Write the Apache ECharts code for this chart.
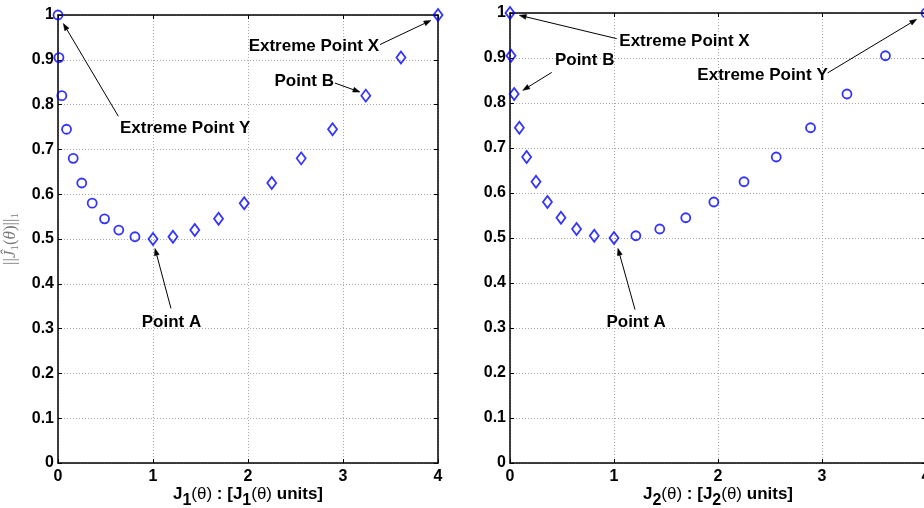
<!DOCTYPE html>
<html>
<head>
<meta charset="utf-8">
<script src="https://cdn.jsdelivr.net/npm/echarts@6/dist/echarts.min.js"></script>
<style>
html, body { margin: 0; padding: 0; background: #fff; }
#main { width: 924px; height: 508px; }
</style>
</head>
<body>
<div id="main"></div>
<script>
// data
var xTickLabels = ['0', '1', '2', '3', '4'];
var yTickLabels = ['0', '0.1', '0.2', '0.3', '0.4', '0.5', '0.6', '0.7', '0.8', '0.9', '1'];

// left panel: J1 on x
var leftCircleX = [0, 0.01, 0.04, 0.09, 0.16, 0.25, 0.36, 0.49, 0.64, 0.81];
var leftCircleY = [1, 0.905, 0.82, 0.745, 0.68, 0.625, 0.58, 0.545, 0.52, 0.505];
var leftDiamondX = [1, 1.21, 1.44, 1.69, 1.96, 2.25, 2.56, 2.89, 3.24, 3.61, 4];
var leftDiamondY = [0.5, 0.505, 0.52, 0.545, 0.58, 0.625, 0.68, 0.745, 0.82, 0.905, 1];

// right panel: J2 on x
var rightDiamondX = [0, 0.01, 0.04, 0.09, 0.16, 0.25, 0.36, 0.49, 0.64, 0.81, 1];
var rightDiamondY = [1, 0.905, 0.82, 0.745, 0.68, 0.625, 0.58, 0.545, 0.52, 0.505, 0.5];
var rightCircleX = [1.21, 1.44, 1.69, 1.96, 2.25, 2.56, 2.89, 3.24, 3.61, 4];
var rightCircleY = [0.505, 0.52, 0.545, 0.58, 0.625, 0.68, 0.745, 0.82, 0.905, 1];

// annotations (data coordinates of each panel)
var leftNotes = [
  { text: 'Extreme Point Y', pos: [0.653, 0.747], align: 'left', tail: [0.635, 0.774], head: [0.056, 0.981] },
  { text: 'Extreme Point X', pos: [3.379, 0.931], align: 'right', tail: [3.389, 0.934], head: [3.926, 0.988] },
  { text: 'Point B', pos: [2.905, 0.851], align: 'right', tail: [2.916, 0.848], head: [3.179, 0.828] },
  { text: 'Point A', pos: [1.195, 0.315], align: 'center', tail: [1.189, 0.345], head: [1.021, 0.479] }
];
var rightNotes = [
  { text: 'Extreme Point X', pos: [1.051, 0.937], align: 'left', tail: [1.026, 0.943], head: [0.089, 0.995] },
  { text: 'Point B', pos: [0.718, 0.894], align: 'center', tail: [0.401, 0.868], head: [0.122, 0.828] },
  { text: 'Extreme Point Y', pos: [3.055, 0.861], align: 'right', tail: [3.055, 0.867], head: [3.911, 0.986] },
  { text: 'Point A', pos: [1.213, 0.313], align: 'center', tail: [1.202, 0.341], head: [1.038, 0.477] }
];

var FONT = '"Liberation Sans", Arial, Helvetica, sans-serif';
var SERIF = '"Liberation Serif", "DejaVu Serif", serif';
var BLUE = '#0000ff';
var NAME_GRAY = '#7a7a7a';

function zip(xs, ys) {
  return xs.map(function (x, i) { return [x, ys[i]]; });
}

var tickLabelStyle = { fontFamily: FONT, fontWeight: 'bold', fontSize: 16, color: '#000' };
var frameLine = { show: true, onZero: false, lineStyle: { color: '#000', width: 1.5 } };
var innerTick = { show: true, inside: true, length: 4, lineStyle: { color: '#000', width: 1 } };
var gridLine = { show: true, lineStyle: { color: '#a8a8a8', width: 1, type: [1, 2] } };

var xNameRich = {
  m: { fontFamily: FONT, fontWeight: 'bold', fontSize: 17, lineHeight: 30, verticalAlign: 'middle', color: '#000' },
  t: { fontFamily: FONT, fontWeight: 'normal', fontSize: 17, lineHeight: 30, verticalAlign: 'middle', color: '#000' },
  s: { fontFamily: FONT, fontWeight: 'bold', fontSize: 16, lineHeight: 11, verticalAlign: 'bottom', color: '#000' }
};

function xAxes(g, idx) {
  return [{
    gridIndex: g, type: 'value', min: 0, max: 4, interval: 1, position: 'bottom',
    axisLine: frameLine, axisTick: innerTick, splitLine: gridLine,
    axisLabel: Object.assign({ margin: 6, formatter: function (v, i) { return xTickLabels[i]; } }, tickLabelStyle),
    name: '{m|J}{s|' + idx + '}{t|(θ)}{m| : [J}{s|' + idx + '}{t|(θ)}{m| units]}',
    nameLocation: 'middle', nameGap: 16, nameMoveOverlap: false,
    nameTextStyle: { rich: xNameRich }
  }, {
    gridIndex: g, type: 'value', min: 0, max: 4, interval: 1, position: 'top',
    axisLine: frameLine, axisTick: innerTick, splitLine: { show: false }, axisLabel: { show: false }
  }];
}

function yAxes(g, withName) {
  var left = {
    gridIndex: g, type: 'value', min: 0, max: 1, interval: 0.1, position: 'left',
    axisLine: frameLine, axisTick: innerTick, splitLine: gridLine,
    axisLabel: Object.assign({ margin: 4, formatter: function (v, i) { return yTickLabels[i]; } }, tickLabelStyle)
  };
  if (withName) {
    left.name = '{n|||}{i|Ĵ}{s|1}{n|(}{i|θ}{n|)||}{s|1}';
    left.nameLocation = 'middle';
    left.nameRotate = 90;
    left.nameGap = 37;
    left.nameMoveOverlap = false;
    left.nameTextStyle = {
      rich: {
        n: { fontFamily: SERIF, fontSize: 17, color: NAME_GRAY, lineHeight: 20, verticalAlign: 'middle' },
        i: { fontFamily: SERIF, fontStyle: 'italic', fontSize: 17, color: NAME_GRAY, lineHeight: 20, verticalAlign: 'middle' },
        s: { fontFamily: SERIF, fontSize: 11, color: NAME_GRAY, lineHeight: 8, verticalAlign: 'bottom' }
      }
    };
  }
  return [left, {
    gridIndex: g, type: 'value', min: 0, max: 1, interval: 0.1, position: 'right',
    axisLine: frameLine, axisTick: innerTick, splitLine: { show: false }, axisLabel: { show: false }
  }];
}

function markers(name, shape, g, pts) {
  return {
    name: name, type: 'scatter', xAxisIndex: g * 2, yAxisIndex: g * 2,
    symbol: shape, symbolSize: shape === 'diamond' ? [9, 12] : 9,
    itemStyle: { color: 'rgba(0,0,0,0)', borderColor: BLUE, borderWidth: 1.8 },
    data: pts, clip: false, z: 5
  };
}

var myChart = echarts.init(document.getElementById('main'));

var option = {
  animation: false,
  backgroundColor: '#fff',
  grid: [
    { left: 58, top: 15, width: 380, height: 448, outerBoundsMode: 'none', containLabel: false },
    { left: 510, top: 13, width: 416, height: 450, outerBoundsMode: 'none', containLabel: false }
  ],
  xAxis: xAxes(0, 1).concat(xAxes(1, 2)),
  yAxis: yAxes(0, true).concat(yAxes(1, false)),
  series: [
    markers('left circles', 'circle', 0, zip(leftCircleX, leftCircleY)),
    markers('left diamonds', 'diamond', 0, zip(leftDiamondX, leftDiamondY)),
    markers('right diamonds', 'diamond', 1, zip(rightDiamondX, rightDiamondY)),
    markers('right circles', 'circle', 1, zip(rightCircleX, rightCircleY))
  ]
};

myChart.setOption(option);

// arrows and text drawn through the axes' own scales
function noteGraphics(notes, seriesIndex) {
  var out = [];
  notes.forEach(function (n) {
    var p = myChart.convertToPixel({ seriesIndex: seriesIndex }, n.pos);
    var a = myChart.convertToPixel({ seriesIndex: seriesIndex }, n.tail);
    var b = myChart.convertToPixel({ seriesIndex: seriesIndex }, n.head);
    var dx = b[0] - a[0], dy = b[1] - a[1];
    var len = Math.sqrt(dx * dx + dy * dy);
    var ux = dx / len, uy = dy / len;
    var hl = 7, hw = 2.5;
    var bx = b[0] - ux * hl, by = b[1] - uy * hl;
    out.push({
      type: 'line', z: 10,
      shape: { x1: a[0], y1: a[1], x2: bx, y2: by },
      style: { stroke: '#000', lineWidth: 1 }
    });
    out.push({
      type: 'polygon', z: 10,
      shape: { points: [[b[0], b[1]], [bx - uy * hw, by + ux * hw], [bx + uy * hw, by - ux * hw]] },
      style: { fill: '#000', stroke: '#000', lineWidth: 0.5 }
    });
    out.push({
      type: 'text', z: 11,
      style: {
        text: n.text, x: p[0], y: p[1], align: n.align, verticalAlign: 'middle',
        font: 'bold 17px ' + FONT, fill: '#000'
      }
    });
  });
  return out;
}

myChart.setOption({
  graphic: noteGraphics(leftNotes, 0).concat(noteGraphics(rightNotes, 2))
});
</script>
</body>
</html>
